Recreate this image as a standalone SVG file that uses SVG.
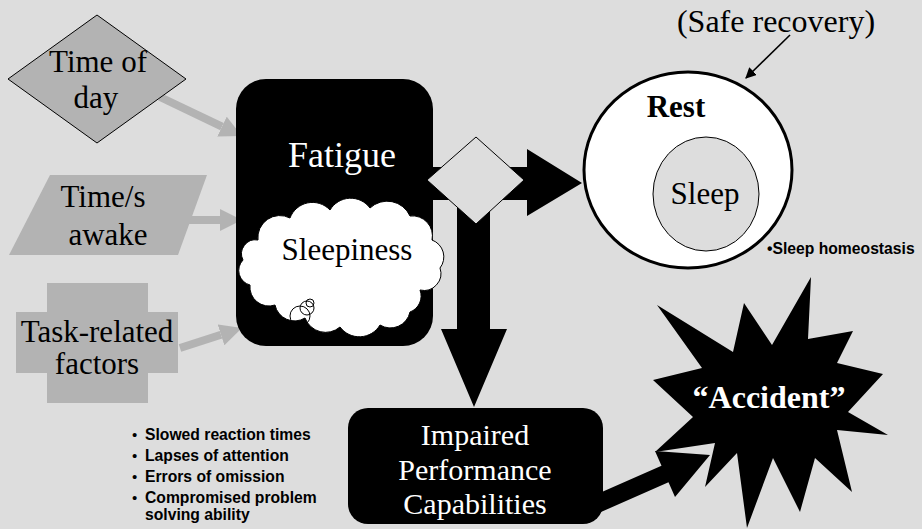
<svg xmlns="http://www.w3.org/2000/svg" width="922" height="529" viewBox="0 0 922 529">
<defs>
<style>
.serif{font-family:'Liberation Serif','Tinos','Times New Roman','DejaVu Serif',serif;}
.sans{font-family:'Liberation Sans',Arial,sans-serif;font-weight:bold;}
.gray{fill:#b3b3b3;}
.glink{stroke:#b3b3b3;stroke-width:8;fill:none;marker-end:url(#gh);}
.blk{fill:#000;}
</style>
<marker id="gh" viewBox="0 0 10 10" refX="0" refY="5" markerUnits="userSpaceOnUse" markerWidth="22" markerHeight="22" orient="auto">
<path d="M0,0 L10,5 L0,10 z" fill="#b3b3b3"/>
</marker>
<marker id="th" viewBox="0 0 10 10" refX="9" refY="5" markerUnits="userSpaceOnUse" markerWidth="11" markerHeight="11" orient="auto">
<path d="M0,0 L10,5 L0,10 z" fill="#000"/>
</marker>
</defs>
<rect width="922" height="529" fill="#dddddd"/>

<g id="connectors">
<line class="glink" x1="160" y1="97" x2="222" y2="126.6"/>
<line class="glink" x1="178" y1="220" x2="220" y2="220"/>
<line class="glink" x1="180" y1="348" x2="221" y2="334.8"/>
<polygon class="blk" points="420,167 527,167 527,149 582,183 527,216 527,200 420,200"/>
<polygon class="blk" points="457,190 490,190 490,329 507,329 474,407 441,329 457,329"/>
<polygon class="blk" points="586.5,498.7 661.5,465.7 655,451 710,455 675,497 668.5,482.3 593.5,515.3"/>
<line x1="790" y1="35" x2="746" y2="78" stroke="#000" stroke-width="1.6" marker-end="url(#th)"/>
</g>

<g id="time-of-day">
<polygon points="8,79 97,15 186,79 97,143" class="gray" stroke="#000" stroke-width="1"/>
<text class="serif" font-family="Liberation Serif, DejaVu Serif, serif" font-size="31" text-anchor="middle" x="98" y="72">Time of</text>
<text class="serif" font-family="Liberation Serif, DejaVu Serif, serif" font-size="31" text-anchor="middle" x="96" y="108">day</text>
</g>

<g id="time-awake">
<polygon points="50,175 207,175 178,255 9,255" class="gray"/>
<text class="serif" font-family="Liberation Serif, DejaVu Serif, serif" font-size="31" text-anchor="middle" x="103" y="207">Time/s</text>
<text class="serif" font-family="Liberation Serif, DejaVu Serif, serif" font-size="31" text-anchor="middle" x="108" y="245">awake</text>
</g>

<g id="task-factors">
<polygon points="47,283 148,283 148,312 178,312 178,373 148,373 148,403 47,403 47,373 16,373 16,312 47,312" class="gray"/>
<text class="serif" font-family="Liberation Serif, DejaVu Serif, serif" font-size="31" text-anchor="middle" x="97" y="342">Task-related</text>
<text class="serif" font-family="Liberation Serif, DejaVu Serif, serif" font-size="31" text-anchor="middle" x="97" y="374">factors</text>
</g>

<g id="fatigue">
<rect x="236" y="79" width="197" height="267" rx="30" ry="30" fill="#000"/>
<text class="serif" font-family="Liberation Serif, DejaVu Serif, serif" font-size="36" fill="#fff" text-anchor="middle" x="342" y="167">Fatigue</text>
</g>

<g id="sleepiness">
<path d="M258,240 A22,22 0 0 1 290,218 A24,24 0 0 1 330,210 A24,24 0 0 1 370,208 A25,25 0 0 1 410,216 A20,20 0 0 1 432,240 A18,18 0 0 1 440,268 A17,17 0 0 1 420,290 A17,17 0 0 1 410,312 A20,20 0 0 1 380,325 A24,24 0 0 1 340,327 A22,22 0 0 1 305,318 A20,20 0 0 1 275,305 A19,19 0 0 1 250,285 A15,15 0 0 1 243,260 A14,14 0 0 1 258,240 Z" fill="#fff" stroke="#000" stroke-width="1"/>
<text class="serif" font-family="Liberation Serif, DejaVu Serif, serif" font-size="31" text-anchor="middle" x="347" y="260">Sleepiness</text>
<circle cx="300" cy="316" r="10" fill="none" stroke="#000" stroke-width="1"/>
<circle cx="307" cy="308" r="7" fill="none" stroke="#000" stroke-width="1"/>
<circle cx="310" cy="303" r="4" fill="none" stroke="#000" stroke-width="1"/>
</g>

<g id="decision">
<polygon points="476,137 524,180 476,224 427,180" fill="#dddddd" stroke="#000" stroke-width="1"/>
</g>

<g id="rest">
<ellipse cx="688" cy="170" rx="104" ry="98" fill="#fff" stroke="#000" stroke-width="3"/>
<text class="serif" font-family="Liberation Serif, DejaVu Serif, serif" font-size="31" font-weight="bold" text-anchor="middle" x="676" y="117">Rest</text>
</g>

<g id="sleep">
<ellipse cx="706" cy="194" rx="53" ry="57" fill="#dddddd" stroke="#000" stroke-width="1"/>
<text class="serif" font-family="Liberation Serif, DejaVu Serif, serif" font-size="31" text-anchor="middle" x="705" y="204">Sleep</text>
</g>

<g id="safe-recovery">
<text class="serif" font-family="Liberation Serif, DejaVu Serif, serif" font-size="32" text-anchor="middle" x="776" y="32">(Safe recovery)</text>
</g>

<g id="homeostasis">
<text class="sans" font-size="15.7" x="767" y="254">•Sleep homeostasis</text>
</g>

<g id="impaired">
<rect x="348" y="408" width="255" height="116" rx="20" ry="20" fill="#000"/>
<text class="serif" font-family="Liberation Serif, DejaVu Serif, serif" font-size="30" fill="#fff" text-anchor="middle" x="475" y="445">Impaired</text>
<text class="serif" font-family="Liberation Serif, DejaVu Serif, serif" font-size="30" fill="#fff" text-anchor="middle" x="475" y="480">Performance</text>
<text class="serif" font-family="Liberation Serif, DejaVu Serif, serif" font-size="30" fill="#fff" text-anchor="middle" x="475" y="514">Capabilities</text>
</g>

<g id="symptoms">
<text class="sans" font-size="15.7" x="145" y="440">Slowed reaction times</text>
<text class="sans" font-size="15.7" x="145" y="461">Lapses of attention</text>
<text class="sans" font-size="15.7" x="145" y="482">Errors of omission</text>
<text class="sans" font-size="15.7" x="145" y="503">Compromised problem</text>
<text class="sans" font-size="15.7" x="145" y="520">solving ability</text>
<g font-family="Liberation Sans, Arial, sans-serif" font-size="15" fill="#000">
<text x="132" y="440">•</text>
<text x="132" y="461">•</text>
<text x="132" y="482">•</text>
<text x="132" y="503">•</text>
</g>
</g>

<g id="accident">
<polygon points="657,305 733,352 744,303 772,345 811,277 808,339 853,331 837,363 883,374 848,412 888,435 837,430 852,492 815,458 800,512 773,458 747,528 737,453 705,487 715,443 655,452 693,417 653,380 702,368" fill="#000"/>
<text class="serif" font-family="Liberation Serif, DejaVu Serif, serif" font-size="32" font-weight="bold" fill="#fff" text-anchor="middle" x="769" y="408">“Accident”</text>
</g>
</svg>
